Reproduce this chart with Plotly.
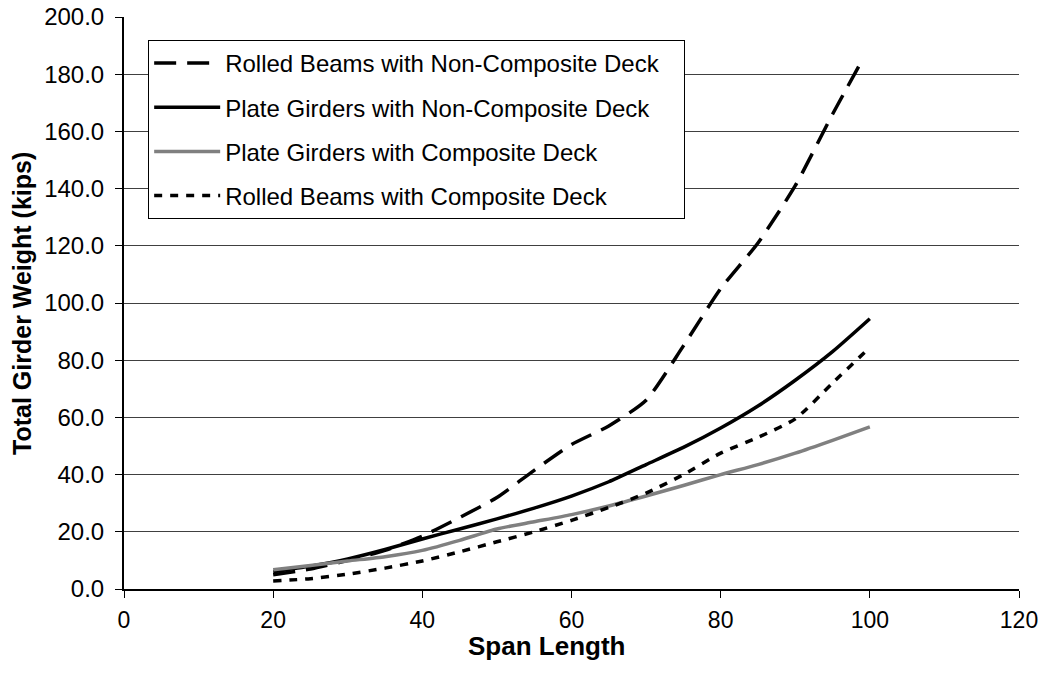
import plotly.graph_objects as go

# ---- data ----
span = [20, 25, 30, 35, 40, 45, 50, 55, 60, 65, 70, 75, 80, 85, 90, 95, 100]
span_rolled_nc = [20, 25, 30, 35, 40, 45, 50, 55, 60, 65, 70, 75, 80, 85, 90, 95, 99]

rolled_noncomp = [5.0, 7.0, 10.0, 13.5, 18.5, 25.0, 32.0, 41.5, 50.5, 57.0, 66.0, 85.0, 105.0, 121.0, 141.0, 166.0, 185.0]
plate_noncomp = [6.0, 8.0, 10.5, 13.8, 17.5, 21.0, 24.5, 28.3, 32.5, 37.5, 43.5, 49.5, 56.3, 64.0, 73.0, 83.0, 94.5]
plate_comp = [6.7, 8.2, 9.8, 11.3, 13.5, 17.0, 21.0, 23.5, 26.0, 29.0, 32.5, 36.2, 40.0, 43.5, 47.5, 52.0, 56.7]
rolled_comp = [2.8, 3.6, 5.2, 7.3, 9.8, 13.0, 16.5, 20.0, 24.0, 28.5, 33.5, 40.0, 47.5, 53.0, 59.5, 72.0, 84.5]

names = [
    "Rolled Beams with Non-Composite Deck",
    "Plate Girders with Non-Composite Deck",
    "Plate Girders with Composite Deck",
    "Rolled Beams with Composite Deck",
]

x_ticks = [0, 20, 40, 60, 80, 100, 120]
y_ticks = [0, 20, 40, 60, 80, 100, 120, 140, 160, 180, 200]

FONT = "Arial, 'Liberation Sans', sans-serif"

fig = go.Figure()
series = [
    (span_rolled_nc, rolled_noncomp, names[0], "black", "22px,11px"),
    (span, plate_noncomp, names[1], "black", "solid"),
    (span, plate_comp, names[2], "#808080", "solid"),
    (span, rolled_comp, names[3], "black", "8px,8px"),
]
for i, (xs, ys, nm, col, dash) in enumerate(series):
    fig.add_trace(go.Scatter(
        x=xs, y=ys, name=nm + "\u00a0\u00a0\u00a0", mode="lines",
        line=dict(color=col, width=3.5, dash=dash, shape="spline", smoothing=0.6),
        legendgroup=f"g{i}",
    ))

fig.update_layout(
    width=1045, height=683,
    margin=dict(l=124, r=26, t=17, b=94),
    paper_bgcolor="white", plot_bgcolor="white",
    font=dict(family=FONT, color="black", size=24),
    showlegend=True,
    legend=dict(
        x=0.027, y=0.96, xanchor="left", yanchor="top",
        bgcolor="white", bordercolor="black", borderwidth=1,
        font=dict(family=FONT, size=24, color="black"),
        tracegroupgap=10, itemwidth=66,
    ),
    xaxis=dict(
        range=[0, 120], tickvals=x_ticks, ticktext=[str(v) for v in x_ticks],
        showgrid=False, zeroline=False, automargin=False,
        showline=True, linecolor="black", linewidth=2,
        ticks="outside", ticklen=7, tickwidth=1, tickcolor="black",
        tickfont=dict(family=FONT, size=23, color="black"),
        ticklabelstandoff=2,
    ),
    yaxis=dict(
        range=[0, 200], tickvals=y_ticks, ticktext=[f"{v:.1f}" for v in y_ticks],
        showgrid=True, gridcolor="#404040", gridwidth=1,
        zeroline=False, automargin=False,
        showline=True, linecolor="black", linewidth=2,
        ticks="outside", ticklen=7, tickwidth=1, tickcolor="black",
        tickfont=dict(family=FONT, size=24, color="black"),
        ticklabelstandoff=6,
    ),
    annotations=[
        dict(text="<b>Span Length</b>", xref="paper", yref="paper",
             x=0.4726, y=-0.1, xanchor="center", yanchor="middle",
             showarrow=False, font=dict(family=FONT, size=26, color="black")),
        dict(text="<b>Total Girder Weight (kips)</b>", xref="paper", yref="paper",
             x=-0.114, y=0.5, xanchor="center", yanchor="middle", textangle=-90,
             showarrow=False, font=dict(family=FONT, size=25, color="black")),
    ],
)

fig.write_html("out.html")
